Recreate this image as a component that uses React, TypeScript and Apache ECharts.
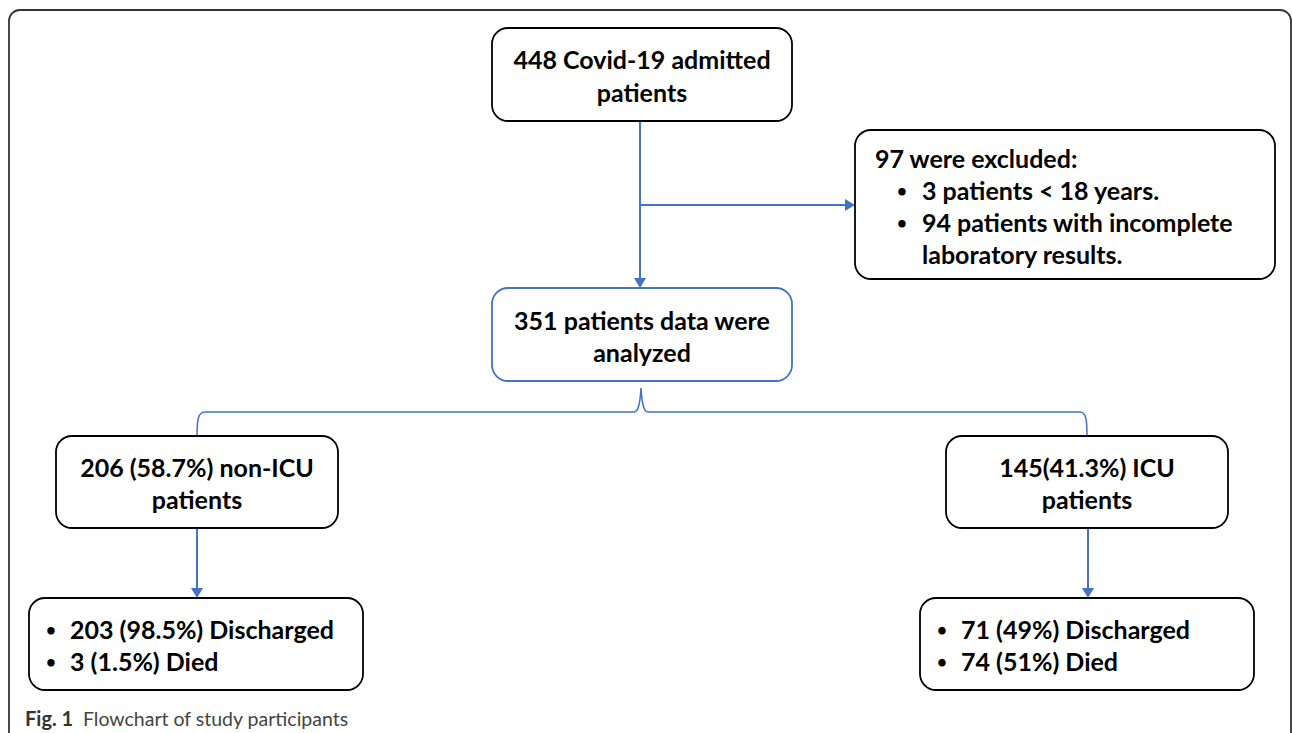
import React, { useEffect, useRef } from "react";
import * as echarts from "echarts";

// ---- Data (flowchart contents) ----
const admittedLines = ["448 Covid-19 admitted", "patients"];
const excludedHeader = "97 were excluded:";
const excludedBullets = [["3 patients < 18 years."], ["94 patients with incomplete", "laboratory results."]];
const analyzedLines = ["351 patients data were", "analyzed"];
const nonIcuLines = ["206 (58.7%) non-ICU", "patients"];
const icuLines = ["145(41.3%) ICU", "patients"];
const nonIcuOutcomes = ["203 (98.5%) Discharged", "3 (1.5%) Died"];
const icuOutcomes = ["71 (49%) Discharged", "74 (51%) Died"];
const captionBold = "Fig. 1";
const captionText = "Flowchart of study participants";

const FONT = "Lato, 'Open Sans', sans-serif";
const BLUE = "#4472C4";
const FS = 25;
const LH = 32;

function box(x: number, y: number, w: number, h: number, stroke = "#000") {
  return {
    type: "rect",
    shape: { x, y, width: w, height: h, r: 16 },
    style: { fill: "#fff", stroke, lineWidth: 1.8 },
  };
}

function txt(x: number, y: number, text: string, align: "left" | "center" = "center", bold = true, size = FS, color = "#000") {
  return {
    type: "text",
    x,
    y,
    style: {
      text,
      fill: color,
      font: `${bold ? "bold" : "normal"} ${size}px ${FONT}`,
      align,
      verticalAlign: "middle",
    } as any,
  };
}

function bullet(x: number, y: number) {
  return txt(x, y, "•", "left", true, 17);
}

function vArrow(x: number, y1: number, y2: number) {
  return [
    { type: "line", shape: { x1: x, y1, x2: x, y2: y2 - 9 }, style: { stroke: BLUE, lineWidth: 2 } },
    { type: "polygon", shape: { points: [[x - 6, y2 - 10], [x + 6, y2 - 10], [x, y2]] }, style: { fill: BLUE } },
  ];
}

function hArrow(y: number, x1: number, x2: number) {
  return [
    { type: "line", shape: { x1, y1: y, x2: x2 - 9, y2: y }, style: { stroke: BLUE, lineWidth: 2 } },
    { type: "polygon", shape: { points: [[x2 - 10, y - 6], [x2 - 10, y + 6], [x2, y]] }, style: { fill: BLUE } },
  ];
}

const bracePath =
  "M197,436 C197,420 198,412 205,412 L634,412 C638,412 640,405 641,388 C642,405 644,412 648,412 L1080,412 C1086,412 1087,420 1087,436";
echarts.graphic.registerShape("brace", echarts.graphic.extendPath(bracePath, {}) as any);

export default function App() {
  const ref = useRef<HTMLDivElement>(null);
  useEffect(() => {
    if (!ref.current) return;
    const chart = echarts.init(ref.current, null as any, { renderer: "svg" });
    const els: any[] = [];
    // outer frame
    els.push({
      type: "rect",
      shape: { x: 9, y: 10, width: 1282, height: 780, r: 11 },
      style: { fill: "none", stroke: "#333", lineWidth: 1.8 },
    });
    // connectors
    els.push(...vArrow(640, 121, 288));
    els.push(...hArrow(205, 640, 855));
    els.push({ type: "brace", x: 0, y: 0, style: { fill: "none", stroke: BLUE, lineWidth: 1.5 } });
    els.push(...vArrow(197, 528, 598));
    els.push(...vArrow(1088, 528, 598));

    // box 1
    els.push(box(492, 28, 300, 93));
    admittedLines.forEach((t, i) => els.push(txt(642, 59 + i * 33, t)));
    // excluded box
    els.push(box(855, 130, 420, 149));
    els.push(txt(875, 158, excludedHeader, "left"));
    let row = 0;
    excludedBullets.forEach((lines) => {
      els.push(bullet(897, 190 + row * LH));
      lines.forEach((l) => {
        els.push(txt(922, 190 + row * LH, l, "left"));
        row++;
      });
    });
    // analyzed box
    els.push(box(492, 288, 300, 93, BLUE));
    analyzedLines.forEach((t, i) => els.push(txt(642, 320 + i * 32, t)));
    // non-ICU / ICU boxes
    els.push(box(56, 436, 282, 92));
    nonIcuLines.forEach((t, i) => els.push(txt(197, 467 + i * 32, t)));
    els.push(box(946, 436, 282, 92));
    icuLines.forEach((t, i) => els.push(txt(1087, 467 + i * 32, t)));
    // outcome boxes
    els.push(box(29, 598, 334, 92));
    nonIcuOutcomes.forEach((t, i) => {
      els.push(bullet(46, 629 + i * 32));
      els.push(txt(70, 629 + i * 32, t, "left"));
    });
    els.push(box(920, 598, 334, 92));
    icuOutcomes.forEach((t, i) => {
      els.push(bullet(937, 629 + i * 32));
      els.push(txt(961, 629 + i * 32, t, "left"));
    });
    // caption
    els.push(txt(25, 718, captionBold, "left", true, 20, "#333"));
    els.push(txt(83, 718, captionText, "left", false, 19.5, "#444"));

    chart.setOption({ animation: false, graphic: { elements: els } });
    return () => chart.dispose();
  }, []);
  return <div ref={ref} style={{ position: "fixed", left: 0, top: 0, width: 1292, height: 733, background: "#fff" }} />;
}
